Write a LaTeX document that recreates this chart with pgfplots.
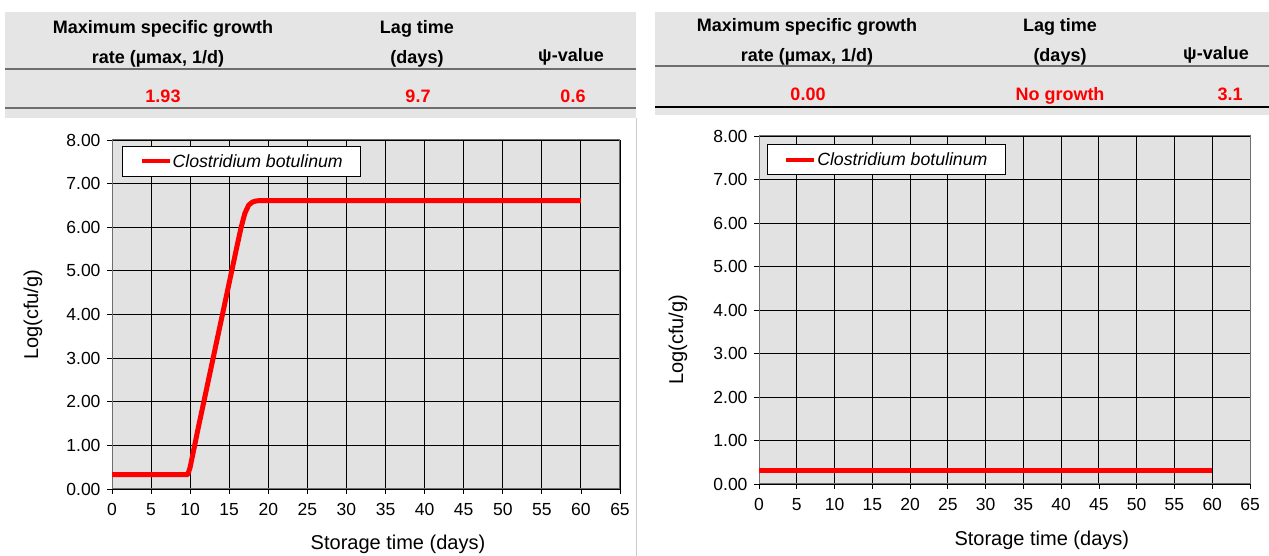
\documentclass[border=0pt]{standalone}
\usepackage{fontspec}
\setmainfont{Liberation Sans}
\usepackage{pgfplots}
\pgfplotsset{compat=1.18}
\definecolor{hdr}{RGB}{229,229,229}
\definecolor{plotbg}{RGB}{226,226,226}
\definecolor{rul}{RGB}{110,110,110}
\pgfplotstableread{
x y
0 0.33
9.7 0.33
10 0.50
11 1.37
12 2.21
13 3.05
14 3.89
15 4.73
16 5.57
16.5 5.98
17 6.32
17.5 6.51
18 6.58
18.5 6.605
19 6.61
60 6.61
}\growthA
\pgfplotstableread{
x y
0 0.32
60 0.32
}\growthB
\pgfplotsset{
  panel/.style={
    scale only axis,
    anchor=south west,
    xmin=0, xmax=65, ymin=0, ymax=8,
    xtick={0,5,...,65}, ytick={0,1,...,8},
    xtick pos=bottom, ytick pos=left,
    /pgf/number format/assume math mode=true,
    yticklabel style={xshift=-3pt, /pgf/number format/.cd, fixed, fixed zerofill, precision=2},
    xticklabel style={yshift=-6pt},
    ticklabel style={font=\fontsize{17.5}{17.5}\selectfont},
    grid=major,
    major grid style={black, line width=0.9pt},
    axis line style={rul, line width=1pt},
    tick align=outside,
    major tick length=5pt,
    tick style={black, line width=0.8pt},
    axis background/.style={fill=plotbg},
    label style={font=\fontsize{20}{20}\selectfont},
    legend style={draw=black, fill=white, line width=0.8pt, font=\fontsize{17.7}{17.7}\selectfont\itshape,
      anchor=north west, inner xsep=17pt, inner ysep=6pt, nodes={inner xsep=1pt}},
    legend cell align=left,
    legend image code/.code={\draw[red, line width=4pt] (0pt,0pt) -- (28pt,0pt);},
  }
}
\begin{document}
\begin{tikzpicture}[x=1pt,y=1pt]
\useasboundingbox (0,0) rectangle (1269,556);
% left header
\fill[hdr] (5,438) rectangle (636,544);
\draw[rul, line width=2pt] (5,487) -- (636,487);
\draw[rul, line width=2pt] (5,448) -- (636,448);
\draw[gray!40, line width=1pt] (636,0) -- (636,438);
\begin{scope}[every node/.style={anchor=base, font=\fontsize{18}{18}\selectfont\bfseries}]
\node at (163,522) {Maximum specific growth};
\node at (158,492) {rate (µmax, 1/d)};
\node at (417,522) {Lag time};
\node at (417,492) {(days)};
\node at (571,494) {ψ-value};
\node[text=red] at (163,453) {1.93};
\node[text=red] at (418,453) {9.7};
\node[text=red] at (573,453) {0.6};
\end{scope}
% right header
\fill[hdr] (655,441) rectangle (1269,544);
\draw[rul, line width=2pt] (655,490) -- (1269,490);
\draw[black, line width=1.2pt] (655,449) -- (1269,449);
\begin{scope}[every node/.style={anchor=base, font=\fontsize{18}{18}\selectfont\bfseries}]
\node at (807,524) {Maximum specific growth};
\node at (807,494) {rate (µmax, 1/d)};
\node at (1060,524) {Lag time};
\node at (1060,494) {(days)};
\node at (1216,496) {ψ-value};
\node[text=red] at (808,455) {0.00};
\node[text=red] at (1060,455) {No growth};
\node[text=red] at (1230,455) {3.1};
\end{scope}

\begin{axis}[panel, at={(112pt,67pt)}, width=508pt, height=349pt,
  xlabel={Storage time (days)}, ylabel={Log(cfu/g)},
  xlabel style={at={(axis description cs:0.563,0)}, anchor=center, yshift=-55pt},
  ylabel style={at={(axis description cs:-0.1555,0.499)}, anchor=center},
  legend style={at={(0.02,0.983)}}]
\addplot[red, line width=5pt, line join=round] table[x=x,y=y] {\growthA};
\addlegendentry{Clostridium botulinum}
\end{axis}

\begin{axis}[panel, at={(759pt,72pt)}, width=491pt, height=348pt,
  xlabel={Storage time (days)}, ylabel={Log(cfu/g)},
  xlabel style={at={(axis description cs:0.576,0)}, anchor=center, yshift=-56pt},
  ylabel style={at={(axis description cs:-0.165,0.414)}, anchor=center},
  legend style={at={(0.016,0.977)}}]
\addplot[red, line width=5pt] table[x=x,y=y] {\growthB};
\addlegendentry{Clostridium botulinum}
\end{axis}
\end{tikzpicture}
\end{document}
